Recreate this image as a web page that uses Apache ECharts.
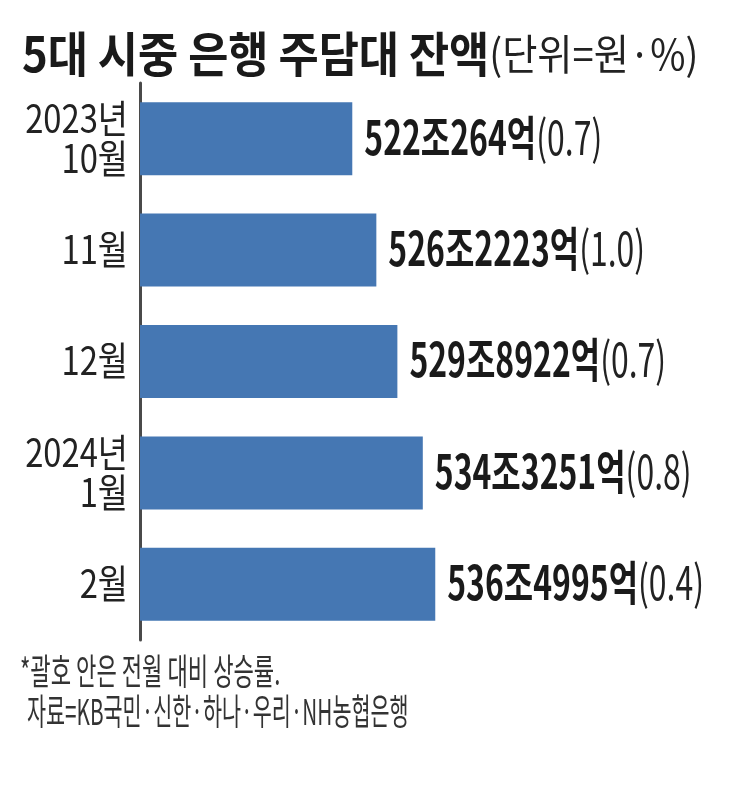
<!DOCTYPE html>
<html>
<head>
<meta charset="utf-8">
<script src="https://cdn.jsdelivr.net/npm/echarts@6.0.0/dist/echarts.min.js"></script>
<style>
html, body { margin: 0; padding: 0; background: #fff; }
#main { width: 729px; height: 800px; }
</style>
</head>
<body>
<div id="main"></div>
<script>
// 기간 (y축)
var months = ['2023년\n10월', '11월', '12월', '2024년\n1월', '2월'];
// 잔액 (조원)
var balances = [522.0264, 526.2223, 529.8922, 534.3251, 536.4995];
// 전월 대비 상승률 (%)
var rates = [0.7, 1.0, 0.7, 0.8, 0.4];

var titleText = '5대 시중 은행 주담대 잔액';
var unitText = '(단위=원·%)';
var noteLines = ['*괄호 안은 전월 대비 상승률.', '자료=KB국민·신한·하나·우리·NH농협은행'];

var KR = "'Noto Sans CJK KR', sans-serif";
var X_MIN = 485;

// 522.0264 -> 522조264억
function fmtAmount(v) {
    var jo = Math.floor(v);
    var eok = Math.round((v - jo) * 10000);
    return jo + '조' + eok + '억';
}

var chart = echarts.init(document.getElementById('main'));
chart.setOption({
    backgroundColor: '#ffffff',
    animation: false,
    grid: {
        left: 140,
        top: 83,
        width: 430,
        height: 557,
        outerBoundsMode: 'none'
    },
    xAxis: {
        type: 'value',
        min: X_MIN,
        max: 560,
        show: false
    },
    yAxis: {
        type: 'category',
        inverse: true,
        data: months,
        axisLine: { show: true, lineStyle: { color: '#4a4a4a', width: 3 } },
        axisTick: { show: false },
        axisLabel: { show: false }
    },
    graphic: [
        {
            type: 'text',
            x: 22, y: 54,
            scaleX: 0.91,
            style: {
                text: '{a|' + titleText + '}{b|' + unitText + '}',
                verticalAlign: 'middle',
                rich: {
                    a: { fontFamily: KR, fontWeight: 'bold', fontSize: 48, fill: '#1a1a1a' },
                    b: { fontFamily: KR, fontSize: 42, fill: '#222' }
                }
            }
        },
        {
            type: 'text',
            x: 20, y: 671,
            scaleX: 0.615,
            style: {
                text: noteLines[0],
                fontFamily: KR,
                fontSize: 36,
                fill: '#333',
                verticalAlign: 'middle'
            }
        },
        {
            type: 'text',
            x: 27, y: 711,
            scaleX: 0.575,
            style: {
                text: noteLines[1],
                fontFamily: KR,
                fontSize: 36,
                fill: '#333',
                verticalAlign: 'middle'
            }
        }
    ],
    series: [
        {
            type: 'bar',
            data: balances,
            barWidth: 73,
            itemStyle: { color: '#4577b3' },
            silent: true
        },
        {
            // 값 라벨 (가로 압축 글씨)
            type: 'custom',
            clip: false,
            silent: true,
            data: balances.map(function (v, i) { return [v, i]; }),
            encode: { x: 0, y: 1 },
            renderItem: function (params, api) {
                var i = params.dataIndex;
                var p = api.coord([api.value(0), api.value(1)]);
                return {
                    type: 'text',
                    x: p[0] + 12,
                    y: p[1] - 2,
                    scaleX: 0.68,
                    style: {
                        text: '{a|' + fmtAmount(balances[i]) + '}{b|(' + rates[i].toFixed(1) + ')}',
                        verticalAlign: 'middle',
                        rich: {
                            a: { fontFamily: KR, fontWeight: 'bold', fontSize: 47, fill: '#1a1a1a' },
                            b: { fontFamily: KR, fontSize: 47, fill: '#222' }
                        }
                    }
                };
            }
        },
        {
            // y축 라벨 (가로 압축 글씨)
            type: 'custom',
            clip: false,
            silent: true,
            data: months.map(function (m, i) { return [X_MIN, i]; }),
            encode: { x: 0, y: 1 },
            renderItem: function (params, api) {
                var i = params.dataIndex;
                var p = api.coord([api.value(0), api.value(1)]);
                return {
                    type: 'text',
                    x: p[0] - 12,
                    y: p[1] - 1,
                    scaleX: 0.84,
                    style: {
                        text: months[i],
                        fontFamily: KR,
                        fontSize: 39,
                        lineHeight: 40,
                        fill: '#222',
                        align: 'right',
                        verticalAlign: 'middle'
                    }
                };
            }
        }
    ]
});
</script>
</body>
</html>
